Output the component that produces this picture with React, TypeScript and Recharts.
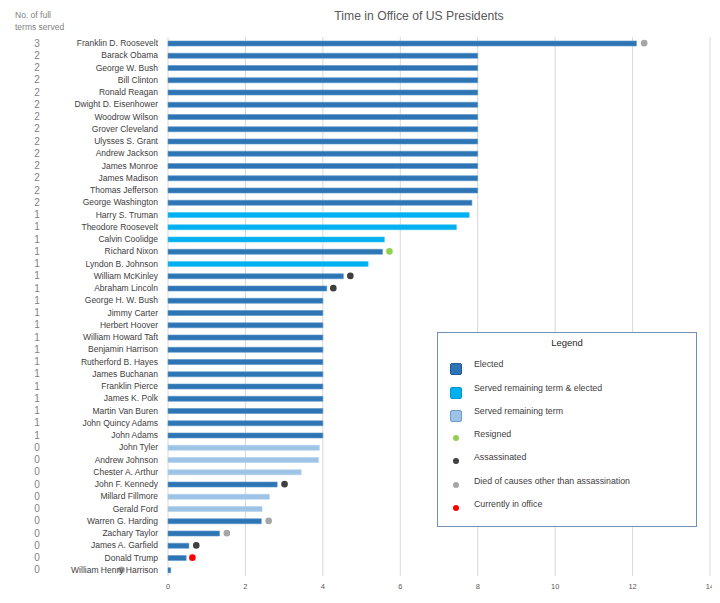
import React from 'react';
import {
  ComposedChart,
  Bar,
  Cell,
  XAxis,
  YAxis,
  CartesianGrid,
  ReferenceDot,
} from 'recharts';

// presidents, longest time in office first
const names = [
  'Franklin D. Roosevelt', 'Barack Obama', 'George W. Bush', 'Bill Clinton', 'Ronald Reagan',
  'Dwight D. Eisenhower', 'Woodrow Wilson', 'Grover Cleveland', 'Ulysses S. Grant', 'Andrew Jackson',
  'James Monroe', 'James Madison', 'Thomas Jefferson', 'George Washington', 'Harry S. Truman',
  'Theodore Roosevelt', 'Calvin Coolidge', 'Richard Nixon', 'Lyndon B. Johnson', 'William McKinley',
  'Abraham Lincoln', 'George H. W. Bush', 'Jimmy Carter', 'Herbert Hoover', 'William Howard Taft',
  'Benjamin Harrison', 'Rutherford B. Hayes', 'James Buchanan', 'Franklin Pierce', 'James K. Polk',
  'Martin Van Buren', 'John Quincy Adams', 'John Adams', 'John Tyler', 'Andrew Johnson',
  'Chester A. Arthur', 'John F. Kennedy', 'Millard Fillmore', 'Gerald Ford', 'Warren G. Harding',
  'Zachary Taylor', 'James A. Garfield', 'Donald Trump', 'William Henry Harrison',
];

const fullTerms = [
  3, 2, 2, 2, 2, 2, 2, 2, 2, 2, 2, 2, 2, 2, 1,
  1, 1, 1, 1, 1, 1, 1, 1, 1, 1, 1, 1, 1, 1, 1,
  1, 1, 1, 0, 0, 0, 0, 0, 0, 0, 0, 0, 0, 0,
];

const years = [
  12.1, 8, 8, 8, 8, 8, 8, 8, 8, 8, 8, 8, 8, 7.85, 7.78,
  7.45, 5.59, 5.54, 5.17, 4.53, 4.1, 4, 4, 4, 4, 4, 4, 4, 4, 4,
  4, 4, 4, 3.91, 3.89, 3.44, 2.82, 2.62, 2.43, 2.41, 1.33, 0.54, 0.47, 0.07,
];

// E = elected, S = served remaining term & elected, R = served remaining term
const howServed = [
  'E', 'E', 'E', 'E', 'E', 'E', 'E', 'E', 'E', 'E', 'E', 'E', 'E', 'E', 'S',
  'S', 'S', 'E', 'S', 'E', 'E', 'E', 'E', 'E', 'E', 'E', 'E', 'E', 'E', 'E',
  'E', 'E', 'E', 'R', 'R', 'R', 'E', 'R', 'R', 'E', 'E', 'E', 'E', 'E',
];

// end-of-term markers
const markerNames = [
  'Franklin D. Roosevelt', 'Richard Nixon', 'William McKinley', 'Abraham Lincoln', 'John F. Kennedy',
  'Warren G. Harding', 'Zachary Taylor', 'James A. Garfield', 'Donald Trump', 'William Henry Harrison',
];
const markerValues = [12.3, 5.72, 4.71, 4.27, 3.01, 2.6, 1.52, 0.73, 0.63, -1.2];
const markerKinds = [
  'died', 'resigned', 'assassinated', 'assassinated', 'assassinated',
  'died', 'died', 'assassinated', 'current', 'died',
];

const xTicks = [0, 2, 4, 6, 8, 10, 12, 14];

const barColors: Record<string, string> = { E: '#2e75b6', S: '#00b0f0', R: '#9dc3e6' };
const barBorders: Record<string, string> = { E: '#5b93c8', S: '#40c4f4', R: '#b4d2ee' };
const boxBorders: Record<string, string> = { E: '#1f5d96', S: '#0097d0', R: '#6f9cc8' };
const dotColors: Record<string, string> = {
  resigned: '#92d050',
  assassinated: '#404040',
  died: '#a6a6a6',
  current: '#ff0000',
};

const legendBoxes = [
  { label: 'Elected', kind: 'E' },
  { label: 'Served remaining term & elected', kind: 'S' },
  { label: 'Served remaining term', kind: 'R' },
];
const legendDots = [
  { label: 'Resigned', kind: 'resigned' },
  { label: 'Assassinated', kind: 'assassinated' },
  { label: 'Died of causes other than assassination', kind: 'died' },
  { label: 'Currently in office', kind: 'current' },
];

const data = names.map((name, i) => ({
  name,
  years: years[i],
  terms: fullTerms[i],
  served: howServed[i],
}));

const FONT = '"Liberation Sans", Arial, sans-serif';

function NameTick(props: any) {
  const { x, y, payload } = props;
  const row = data[payload.index];
  return (
    <g>
      <text x={x} y={y} dy={3} textAnchor="end" fontSize={8.5} fill="#404040" fontFamily={FONT}>
        {payload.value}
      </text>
      <text x={29} y={y} dy={3.5} textAnchor="middle" fontSize={10} fill="#7f7f7f" fontFamily={FONT}>
        {row ? row.terms : ''}
      </text>
    </g>
  );
}

function LegendBox() {
  return (
    <div
      style={{
        position: 'absolute',
        left: 429,
        top: 324,
        width: 258,
        height: 193,
        border: '1px solid #6f8fb8',
        background: '#fff',
        fontFamily: FONT,
        fontSize: 8.8,
        color: '#404040',
      }}
    >
      <div style={{ position: 'absolute', top: 4, width: '100%', textAlign: 'center', fontSize: 9.5, color: '#262626' }}>
        Legend
      </div>
      {legendBoxes.map((item, i) => (
        <div key={item.label} style={{ position: 'absolute', left: 12, top: 30 + i * 23.5, display: 'flex' }}>
          <div
            style={{
              width: 10,
              height: 10,
              borderRadius: 2,
              background: barColors[item.kind],
              border: `1px solid ${boxBorders[item.kind]}`,
            }}
          />
          <span style={{ marginLeft: 12, marginTop: -4 }}>{item.label}</span>
        </div>
      ))}
      {legendDots.map((item, i) => (
        <div key={item.label} style={{ position: 'absolute', left: 15, top: 102 + i * 23.3, display: 'flex' }}>
          <div style={{ width: 6, height: 6, borderRadius: 3, background: dotColors[item.kind] }} />
          <span style={{ marginLeft: 15, marginTop: -6 }}>{item.label}</span>
        </div>
      ))}
    </div>
  );
}

export default function App() {
  return (
    <div style={{ position: 'relative', width: 708, height: 587, fontFamily: FONT }}>
      <div
        style={{
          position: 'absolute',
          left: 7,
          top: 1,
          fontSize: 8.5,
          lineHeight: '12px',
          color: '#7f7f7f',
        }}
      >
        No. of full
        <br />
        terms served
      </div>
      <div
        style={{
          position: 'absolute',
          left: 0,
          top: 1,
          width: 822,
          textAlign: 'center',
          fontSize: 12.2,
          color: '#595959',
        }}
      >
        Time in Office of US Presidents
      </div>
      <ComposedChart
        width={708}
        height={587}
        data={data}
        layout="vertical"
        margin={{ top: 29, right: 6, bottom: 0, left: 0 }}
        barCategoryGap={0}
      >
        <CartesianGrid horizontal={false} vertical stroke="#d9d9d9" />
        <XAxis
          type="number"
          domain={[0, 14]}
          ticks={xTicks}
          axisLine={false}
          tickLine={false}
          height={19}
          tick={{ fontSize: 7.5, fill: '#595959', fontFamily: FONT }}
          interval={0}
        />
        <YAxis
          type="category"
          dataKey="name"
          width={160}
          axisLine={false}
          tickLine={false}
          tickSize={6}
          tickMargin={4}
          interval={0}
          tick={<NameTick />}
        />
        <Bar dataKey="years" barSize={5} isAnimationActive={false} strokeWidth={0.6}>
          {data.map((d) => (
            <Cell key={d.name} fill={barColors[d.served]} stroke={barBorders[d.served]} />
          ))}
        </Bar>
        {markerNames.map((n, i) => (
          <ReferenceDot
            key={n}
            x={markerValues[i]}
            y={n}
            r={3.3}
            fill={dotColors[markerKinds[i]]}
            stroke="none"
            ifOverflow="visible"
          />
        ))}
      </ComposedChart>
      <LegendBox />
    </div>
  );
}
